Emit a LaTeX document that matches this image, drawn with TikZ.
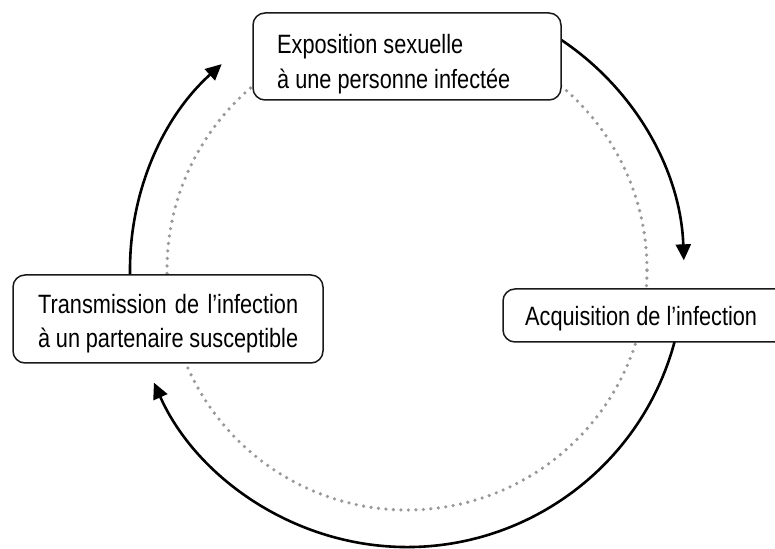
\documentclass[tikz,border=0pt]{standalone}
\usepackage{fontspec}
\setmainfont[FakeStretch=0.82]{Liberation Sans}
\usetikzlibrary{arrows.meta}
\begin{document}
\begin{tikzpicture}[x=1pt,y=1pt,
  boxstyle/.style={draw=black!90, line width=1.5pt, rounded corners=12pt, fill=white, inner sep=0pt},
  txt/.style={anchor=base west, inner sep=0pt, font=\fontsize{26.5}{35}\selectfont, text=black},
  cyc/.style={line width=2.6pt, -{Triangle[length=16pt,width=15pt]}},
  dots/.style={draw=black!40, line width=3.6pt, line cap=round, dash pattern=on 0pt off 7.5pt}]
\useasboundingbox (0,0) rectangle (775,548);
\clip (0,0) rectangle (775,548);
\coordinate (c) at (407,278);
% dotted inner circle
\draw[dots] (c) circle[radius=240pt];
% cycle arcs
\draw[cyc] (c) ++(60:277pt) arc[start angle=60, end angle=2, radius=277pt];
\draw[cyc] (c) ++(-12:277pt) arc[start angle=-12, end angle=-156, radius=277pt];
\draw[cyc] (c) ++(185:277pt) arc[start angle=185, end angle=132, radius=277pt];
% boxes
\node[boxstyle, minimum width=308pt, minimum height=87pt] (top) at (407,491.5) {};
\node[boxstyle, minimum width=310pt, minimum height=88pt] (left) at (168,229) {};
\node[boxstyle, minimum width=287pt, minimum height=53pt] (right) at (646.5,232.5) {};
% texts
\node[txt] (t1) at (277,494) {Exposition sexuelle};
\node[txt] (t2) at (277,459) {à une personne infectée};
\node[txt] (l1) at (38,234) {\makebox[260pt][s]{Transmission de l’infection}};
\node[txt] (l2) at (38,200) {\makebox[260pt][s]{à un partenaire susceptible}};
\node[txt] (r1) at (525,222) {Acquisition de l’infection};
\end{tikzpicture}
\end{document}
